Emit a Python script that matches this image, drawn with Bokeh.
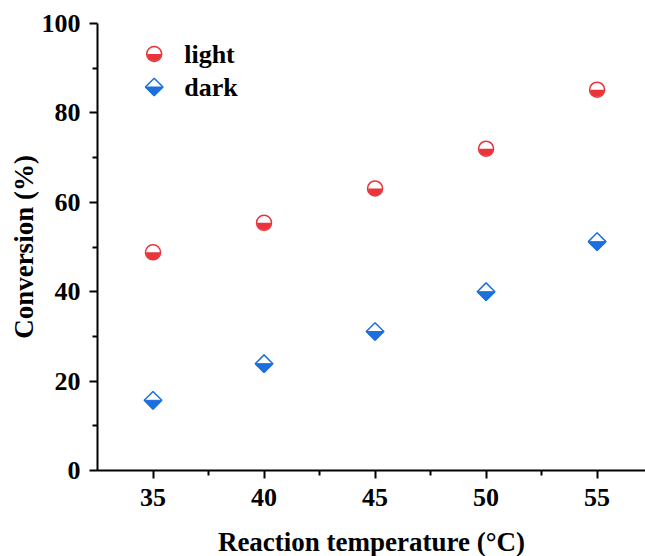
import numpy as np
from bokeh.plotting import figure
from bokeh.models import Range1d, FixedTicker, Label
from bokeh.embed import file_html
from bokeh.resources import INLINE

# ---- data ----
temperature = [35, 40, 45, 50, 55]
light = [48.8, 55.4, 63.1, 72.0, 85.2]
dark = [15.7, 23.9, 31.1, 40.0, 51.2]
series_names = ["light", "dark"]
x_ticks = [35, 40, 45, 50, 55]
x_minor = [37.5, 42.5, 47.5, 52.5, 57.5]
y_ticks = [0, 20, 40, 60, 80, 100]
y_minor = [10, 30, 50, 70, 90]

RED = "#E8343A"
BLUE = "#1C6FDC"
FONT = "Liberation Serif"

X0, X1 = 32.5, 57.18
Y0, Y1 = 0, 100
FW, FH = 548, 447
XPX = FW / (X1 - X0)
YPX = FH / (Y1 - Y0)

p = figure(frame_width=FW, frame_height=FH, output_backend="svg", toolbar_location=None,
           x_range=Range1d(X0, X1), y_range=Range1d(Y0, Y1),
           min_border_left=97, min_border_right=0, min_border_top=23, min_border_bottom=86)
p.outline_line_color = None
p.grid.visible = False
p.background_fill_color = "white"
p.border_fill_color = "white"

p.xaxis.ticker = FixedTicker(ticks=x_ticks, minor_ticks=x_minor)
p.yaxis.ticker = FixedTicker(ticks=y_ticks, minor_ticks=y_minor)
for ax in (p.xaxis, p.yaxis):
    ax.axis_line_width = 2
    ax.axis_line_color = "black"
    ax.major_tick_line_width = 2
    ax.minor_tick_line_width = 2
    ax.major_tick_out = 8
    ax.major_tick_in = 0
    ax.minor_tick_out = 5
    ax.minor_tick_in = 0
    ax.major_label_text_font = FONT
    ax.major_label_text_font_style = "bold"
    ax.major_label_text_font_size = "26px"
    ax.major_label_text_color = "black"
    ax.axis_label_text_font = FONT
    ax.axis_label_text_font_style = "bold"
    ax.axis_label_text_font_size = "27px"
    ax.axis_label_text_color = "black"
p.xaxis.axis_label = "Reaction temperature (°C)"
p.yaxis.axis_label = "Conversion (%)"
p.xaxis.major_label_standoff = 10
p.yaxis.major_label_standoff = 9
p.xaxis.axis_label_standoff = 18
p.yaxis.axis_label_standoff = 0

R = 7.5      # circle radius (px)
D = 8.8      # diamond half-diagonal (px)

def draw_circle_marker(xs, ys):
    p.scatter(xs, ys, marker="circle", size=2 * R, fill_color="white", line_color=RED, line_width=1.5)
    p.wedge(xs, ys, radius=R - 0.4, radius_units="screen", start_angle=np.pi, end_angle=2 * np.pi,
            fill_color=RED, line_color=None)

def draw_diamond_marker(xs, ys):
    hw, hh = D / XPX, D / YPX
    p.patches([[x - hw, x, x + hw, x] for x in xs], [[y, y + hh, y, y - hh] for y in ys],
              fill_color="white", line_color=BLUE, line_width=1.5)
    p.patches([[x - hw, x + hw, x] for x in xs], [[y, y, y - hh] for y in ys],
              fill_color=BLUE, line_color=BLUE, line_width=1)

draw_circle_marker(temperature, light)
draw_diamond_marker(temperature, dark)

# legend (manual, top-left)
leg_x = X0 + (154 - 97.3) / XPX
leg_y = [Y1 - (53.5 - 23) / YPX, Y1 - (86.5 - 23) / YPX]
draw_circle_marker([leg_x], [leg_y[0]])
draw_diamond_marker([leg_x], [leg_y[1]])
txt_x = X0 + (184 - 97.3) / XPX
for name, ly in zip(series_names, leg_y):
    p.add_layout(Label(x=txt_x, y=ly, text=name, text_font=FONT, text_font_style="bold",
                       text_font_size="26px", text_baseline="middle", text_color="black"))

open("out.html", "w").write(file_html(p, INLINE))
